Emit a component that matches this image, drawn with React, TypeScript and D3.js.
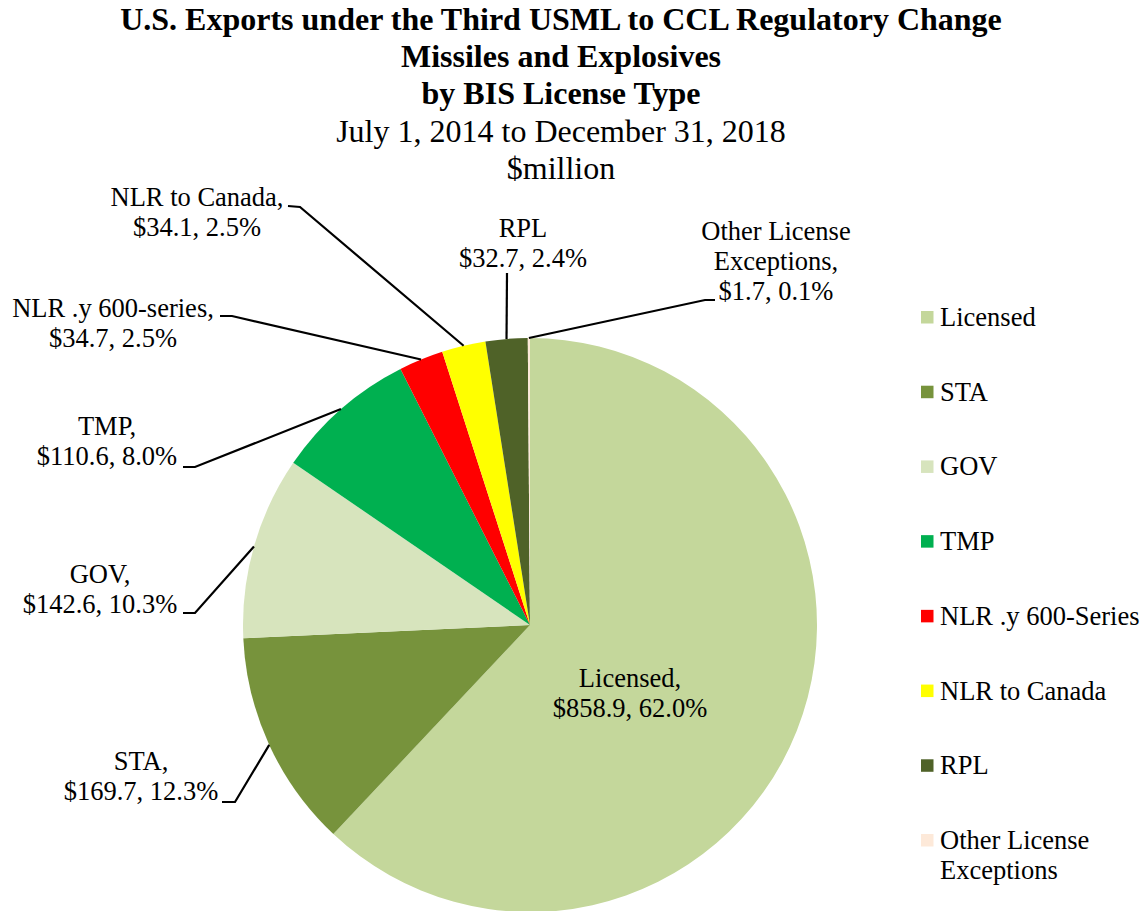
import React from "react";
import * as d3 from "d3";

const categories = [
  "Licensed",
  "STA",
  "GOV",
  "TMP",
  "NLR .y 600-series",
  "NLR to Canada",
  "RPL",
  "Other License Exceptions",
];
const values = [858.9, 169.7, 142.6, 110.6, 34.7, 34.1, 32.7, 1.7];
const percents = ["62.0%", "12.3%", "10.3%", "8.0%", "2.5%", "2.5%", "2.4%", "0.1%"];
const legendLabels = [
  ["Licensed"],
  ["STA"],
  ["GOV"],
  ["TMP"],
  ["NLR .y 600-Series"],
  ["NLR to Canada"],
  ["RPL"],
  ["Other License", "Exceptions"],
];
const titleLines = [
  "U.S. Exports under the Third USML to CCL Regulatory Change",
  "Missiles and Explosives",
  "by BIS License Type",
];
const subtitleLines = ["July 1, 2014 to December 31, 2018", "$million"];

const colors = ["#C4D79B", "#77933C", "#D7E4BD", "#00B050", "#FF0000", "#FFFF00", "#4F6228", "#FDE9D9"];

const labelText = [
  ["Licensed,", "$858.9, 62.0%"],
  ["STA,", "$169.7, 12.3%"],
  ["GOV,", "$142.6, 10.3%"],
  ["TMP,", "$110.6, 8.0%"],
  ["NLR .y 600-series,", "$34.7, 2.5%"],
  ["NLR to Canada,", "$34.1, 2.5%"],
  ["RPL", "$32.7, 2.4%"],
  ["Other License", "Exceptions,", "$1.7, 0.1%"],
];
const labelLayout: { cx: number; y: number; elbow: number[][] | null }[] = [
  { cx: 630, y: 687, elbow: null },
  { cx: 141, y: 770, elbow: [[222, 802], [235, 802]] },
  { cx: 100, y: 583, elbow: [[183, 613], [195, 613]] },
  { cx: 107, y: 435, elbow: [[183, 467], [195, 467]] },
  { cx: 113, y: 317, elbow: [[220, 316], [232, 316]] },
  { cx: 197, y: 206, elbow: [[288, 206], [300, 207]] },
  { cx: 523, y: 237, elbow: [[507, 273]] },
  { cx: 776, y: 240, elbow: [[715, 300], [705, 300]] },
];

const W = 1147;
const H = 911;
const CX = 530;
const CY = 625;
const R = 287;
const FONT = '"Liberation Serif", Tinos, "Times New Roman", "DejaVu Serif", serif';

export default function App() {
  const pie = d3.pie<number>().sort(null).value((d) => d)(values);
  const arc = d3.arc<d3.PieArcDatum<number>>().innerRadius(0).outerRadius(R);
  const legendY = d3.scaleLinear().domain([0, 7]).range([326, 849]);

  return (
    <svg
      width={W}
      height={H}
      style={{ position: "absolute", left: 0, top: 0, background: "#fff", fontFamily: FONT }}
    >
      <rect width={W} height={H} fill="#fff" />
      {titleLines.map((t, i) => (
        <text key={t} x={561} y={30 + i * 37} textAnchor="middle" fontSize={32} fontWeight="bold" style={{ fontFamily: FONT }}>
          {t}
        </text>
      ))}
      {subtitleLines.map((t, i) => (
        <text key={t} x={561} y={142 + i * 37} textAnchor="middle" fontSize={32} style={{ fontFamily: FONT }}>
          {t}
        </text>
      ))}
      <g transform={`translate(${CX},${CY})`}>
        {pie.map((d, i) => (
          <path key={categories[i]} d={arc(d) || ""} fill={colors[i]} />
        ))}
      </g>
      {pie.map((d, i) => {
        const L = labelLayout[i];
        if (!L.elbow) return null;
        const mid = (d.startAngle + d.endAngle) / 2;
        const px = CX + R * Math.sin(mid);
        const py = CY - R * Math.cos(mid);
        const pts = [...L.elbow, [px, py]] as [number, number][];
        return (
          <path key={"l" + i} d={d3.line()(pts) || ""} fill="none" stroke="#000" strokeWidth={2.2} />
        );
      })}
      {labelText.map((lines, i) => (
        <text key={"t" + i} fontSize={26.5} textAnchor="middle" fill="#000" style={{ fontFamily: FONT }}>
          {lines.map((ln, j) => (
            <tspan key={j} x={labelLayout[i].cx} y={labelLayout[i].y + j * 30}>
              {ln}
            </tspan>
          ))}
        </text>
      ))}
      {legendLabels.map((lines, i) => (
        <g key={"lg" + i}>
          <rect x={921} y={legendY(i) - 15} width={12.5} height={12.5} fill={colors[i]} />
          {lines.map((ln, j) => (
            <text key={j} x={940} y={legendY(i) + j * 30} fontSize={26.5} style={{ fontFamily: FONT }}>
              {ln}
            </text>
          ))}
        </g>
      ))}
    </svg>
  );
}
